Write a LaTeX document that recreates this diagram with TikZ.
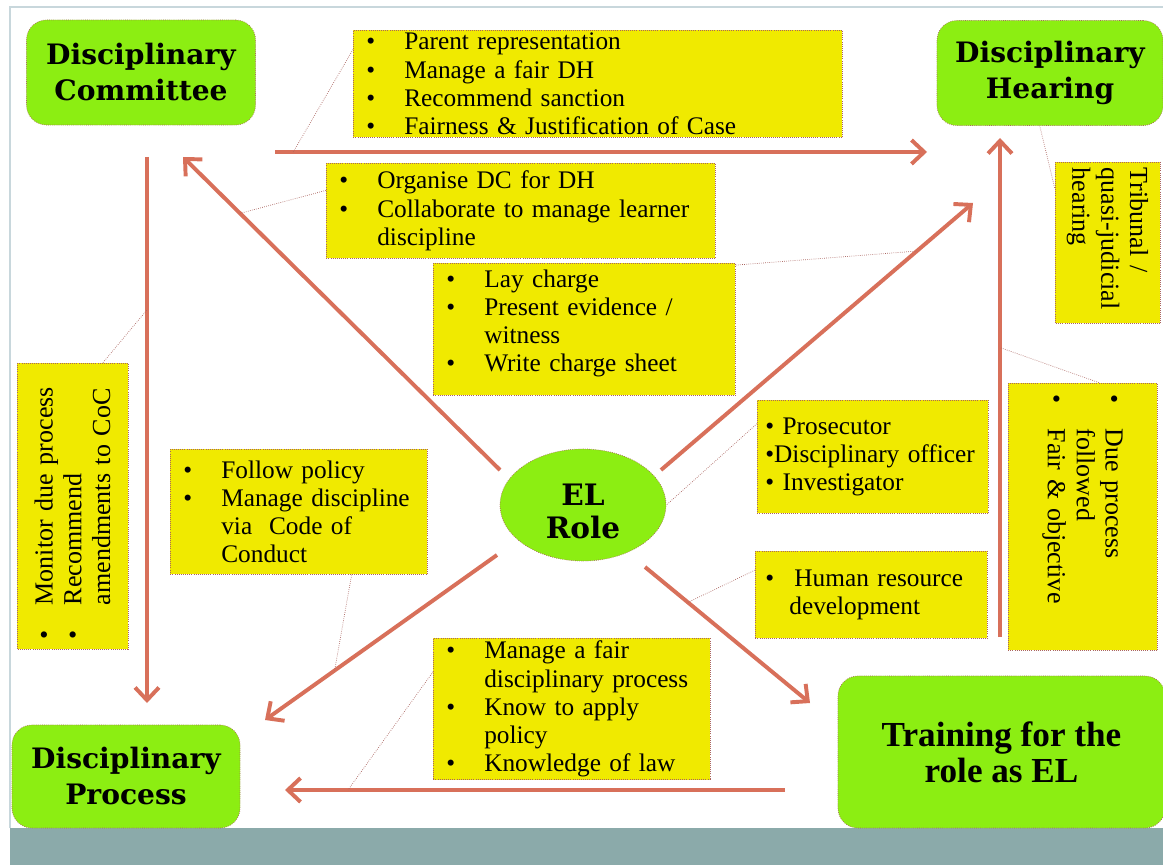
\documentclass[tikz,border=0pt]{standalone}
\usepackage{fontspec}
\setmainfont{Liberation Serif}
\newfontfamily\headfont{DejaVu Serif}
\usepackage{tikz}
\usetikzlibrary{arrows.meta,shapes.geometric,positioning}
\definecolor{boxgreen}{RGB}{140,238,18}
\definecolor{boxyellow}{RGB}{240,234,0}
\definecolor{arrowred}{RGB}{216,112,90}
\definecolor{dotline}{RGB}{170,100,95}
\definecolor{footband}{RGB}{139,170,170}
\definecolor{framegray}{RGB}{200,215,220}
% bullet lines
\newcommand{\bl}[1]{\mbox{\makebox[1.5em][l]{\textbullet}#1}}
\newcommand{\ind}[1]{\mbox{\hspace*{1.5em}#1}}
\newcommand{\blv}[1]{\mbox{\makebox[24pt][l]{\textbullet}#1}}
\newcommand{\indv}[1]{\mbox{\hspace*{24pt}#1}}
\tikzset{
  role/.style={draw=dotline, densely dotted, line width=0.5pt, fill=boxgreen, rounded corners=0.5cm,
    align=center, font=\headfont\bfseries\fontsize{20}{25.6}\selectfont},
  elrole/.style={ellipse, draw=dotline, densely dotted, line width=0.5pt, fill=boxgreen,
    minimum width=4.15cm, minimum height=2.8cm, inner sep=0pt, align=center,
    font=\headfont\bfseries\fontsize{21}{24}\selectfont},
  note/.style={draw=dotline, densely dotted, line width=0.5pt, fill=boxyellow, anchor=north west,
    align=left, inner xsep=0.325cm, inner ysep=2pt, font=\fontsize{18}{20}\selectfont},
  vnote/.style={note, anchor=center, font=\fontsize{18.5}{20.5}\selectfont},
  arr/.style={draw=arrowred, line width=2.8pt, -{Straight Barb[length=9pt,width=17pt]}},
  callout/.style={draw=dotline, line width=0.5pt, densely dotted},
}

\begin{document}
\begin{tikzpicture}[x=0.025cm, y=-0.025cm]
  \useasboundingbox (0,0) rectangle (1163,865);
  % Frame and footer band
  \fill[footband] (10,828) rectangle (1163,865);
  \draw[framegray, line width=1pt] (10,828) -- (10,7) -- (1163,7);
  % Main boxes
  \node[role, minimum width=5.725cm, minimum height=2.625cm] (dc) at (141,72.5) {Disciplinary\\Committee};
  \node[role, minimum width=5.65cm, minimum height=2.625cm] (dh) at (1050,73) {Disciplinary\\Hearing};
  \node[role, minimum width=5.7cm, minimum height=2.575cm] (dp) at (126,776.5) {Disciplinary\\Process};
  \node[role, minimum width=8.175cm, minimum height=3.8cm,
    font=\bfseries\fontsize{25}{25.6}\selectfont] (tr) at (1001.5,752) {Training for the\\role as EL};
  \node[elrole] (el) at (583,505) {\rule{0pt}{24.5pt}EL\\Role};
  % Arrow ends
  \coordinate (a1s) at (275,152);  \coordinate (a1e) at (927,152);
  \coordinate (a2s) at (500,470);  \coordinate (a2e) at (183,157);
  \coordinate (a3s) at (661,470);  \coordinate (a3e) at (973,203);
  \coordinate (a4s) at (147,157);  \coordinate (a4e) at (147,703);
  \coordinate (a5s) at (497,555);  \coordinate (a5e) at (265,720);
  \coordinate (a6s) at (645,567);  \coordinate (a6e) at (810,703);
  \coordinate (a7s) at (785,790);  \coordinate (a7e) at (285,790);
  \coordinate (a8s) at (1000,637); \coordinate (a8e) at (1000,138);
  % Arrows
  \draw[arr] (a1s) -- (a1e);
  \draw[arr] (a2s) -- (a2e);
  \draw[arr] (a3s) -- (a3e);
  \draw[arr] (a4s) -- (a4e);
  \draw[arr] (a5s) -- (a5e);
  \draw[arr] (a6s) -- (a6e);
  \draw[arr] (a7s) -- (a7e);
  \draw[arr] (a8s) -- (a8e);
  % Points on the arrows for the callouts
  \path (a1s) -- (a1e) coordinate[pos=0.028] (c1);
  \path (a2s) -- (a2e) coordinate[pos=0.82] (c2);
  \path (a3s) -- (a3e) coordinate[pos=0.82] (c3);
  \path (a4s) -- (a4e) coordinate[pos=0.28] (c4);
  \path (a5s) -- (a5e) coordinate[pos=0.70] (c5);
  \path (a7s) -- (a7e) coordinate[pos=0.874] (c7);
  \path (a6s) -- (a6e) coordinate[pos=0.26] (c6);
  \path (a8s) -- (a8e) coordinate[pos=0.58] (c8);
  % Notes
  \node[note, text width=11.575cm, minimum height=2.675cm] (nDH) at (353,30)
    {\bl{Parent representation}\\\bl{Manage a fair DH}\\\bl{Recommend sanction}\\\bl{Fairness \& Justification of Case}};
  \node[note, text width=9.075cm, minimum height=2.375cm] (nDC) at (326,163)
    {\bl{Organise DC for DH}\\\bl{Collaborate to manage learner}\\\ind{discipline}};
  \node[note, text width=6.9cm, minimum height=3.3cm] (nCharge) at (433,263)
    {\bl{Lay charge}\\\bl{Present evidence /}\\\ind{witness}\\\bl{Write charge sheet}\\[-8pt]\mbox{}};
  \node[note, text width=5.375cm, inner xsep=0.2cm, minimum height=2.825cm] (nOfficer) at (757,400)
    {\mbox{\textbullet\ Prosecutor}\\\mbox{\textbullet Disciplinary officer}\\\mbox{\textbullet\ Investigator}};
  \node[note, text width=5.3cm, inner xsep=0.25cm, minimum height=2.175cm] (nHR) at (755,551)
    {\mbox{\makebox[1.15em][l]{\textbullet}Human resource}\\\mbox{\hspace*{0.95em}development}};
  \node[note, text width=5.775cm, minimum height=3.125cm] (nPolicy) at (170,449)
    {\bl{Follow policy}\\\bl{Manage discipline}\\\ind{via\ \ Code of}\\\ind{Conduct}};
  \node[note, text width=6.275cm, minimum height=3.525cm] (nLaw) at (433,638)
    {\bl{Manage a fair}\\\ind{disciplinary process}\\\bl{Know to apply}\\\ind{policy}\\\bl{Knowledge of law}};
  \node[vnote, rotate=-90, inner xsep=0.15cm, text width=3.725cm, minimum height=2.625cm] (nTrib) at (1107.5,242.5)
    {Tribunal /\\\mbox{quasi-judicial}\\hearing};
  \node[vnote, rotate=-90, inner xsep=0.3cm, text width=6.075cm, minimum height=3.725cm] (nFair) at (1082.5,516.5)
    {\blv{Due process}\\\indv{followed}\\\blv{Fair \& objective}};
  \node[vnote, rotate=90, inner xsep=0.25cm, text width=6.65cm, minimum height=2.775cm] (nMonitor) at (72.5,506)
    {\blv{Monitor due process}\\\blv{Recommend}\\\indv{amendments to CoC}};
  % Callout lines
  \draw[callout] (nDH.172) -- (c1);
  \draw[callout] (nDC.174) -- (c2);
  \draw[callout] (nCharge.23) -- (c3);
  \draw[callout] (nMonitor.-12) -- (c4);
  \draw[callout] (nPolicy.-50.5) -- (c5);
  \draw[callout] (nLaw.165) -- (c7);
  \draw[callout] (nOfficer.164) -- (el.east);
  \draw[callout] (nHR.168) -- (c6);
  \draw[callout] (nTrib.224) -- (dh.-101);
  \draw[callout] (nFair.173.8) -- (c8);
\end{tikzpicture}
\end{document}
